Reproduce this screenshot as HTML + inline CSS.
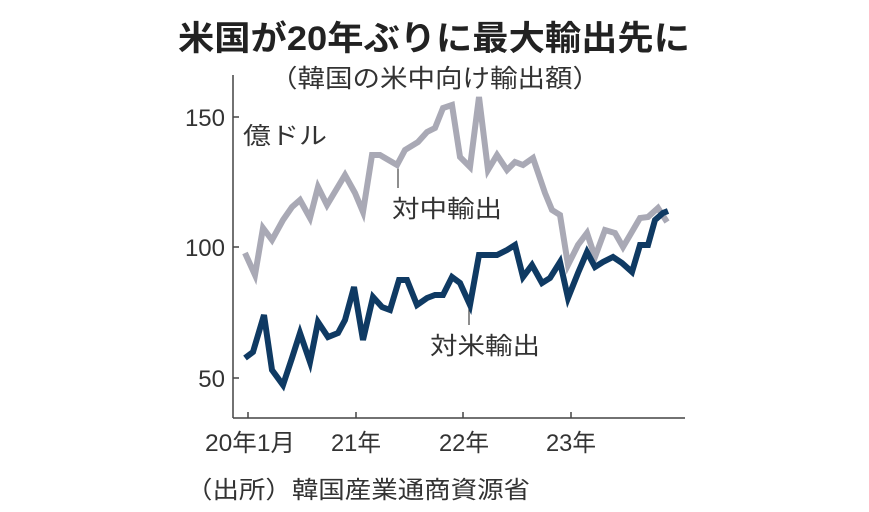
<!DOCTYPE html>
<html><head><meta charset="utf-8"><style>
body{margin:0;background:#fff;}
svg{display:block;font-family:"Liberation Sans","Noto Sans CJK JP",sans-serif;}
</style></head><body>
<svg width="869" height="512" viewBox="0 0 869 512">
<text x="178" y="50" font-size="34" font-weight="bold" fill="#222" textLength="512" lengthAdjust="spacingAndGlyphs">米国が20年ぶりに最大輸出先に</text>
<text x="270" y="87" font-size="25" fill="#333" textLength="330" lengthAdjust="spacingAndGlyphs">（韓国の米中向け輸出額）</text>
<g stroke="#444" stroke-width="1.5" fill="none">
<line x1="233" y1="75" x2="233" y2="418"/>
<line x1="233" y1="418" x2="685" y2="418"/>
<line x1="233" y1="117" x2="239" y2="117"/>
<line x1="233" y1="247" x2="239" y2="247"/>
<line x1="233" y1="378" x2="239" y2="378"/>
<line x1="248" y1="412" x2="248" y2="418"/>
<line x1="356" y1="412" x2="356" y2="418"/>
<line x1="463" y1="412" x2="463" y2="418"/>
<line x1="571" y1="412" x2="571" y2="418"/>
</g>
<g font-size="24" fill="#333">
<text x="225" y="126" text-anchor="end">150</text>
<text x="225" y="256" text-anchor="end">100</text>
<text x="225" y="387" text-anchor="end">50</text>
<text x="205" y="451" textLength="90" lengthAdjust="spacingAndGlyphs">20年1月</text>
<text x="331" y="451" textLength="50" lengthAdjust="spacingAndGlyphs">21年</text>
<text x="439" y="451" textLength="50" lengthAdjust="spacingAndGlyphs">22年</text>
<text x="546" y="451" textLength="50" lengthAdjust="spacingAndGlyphs">23年</text>
<text x="243" y="144" textLength="84" lengthAdjust="spacingAndGlyphs">億ドル</text>
<text x="392" y="217" textLength="110" lengthAdjust="spacingAndGlyphs">対中輸出</text>
<text x="430" y="354" textLength="110" lengthAdjust="spacingAndGlyphs">対米輸出</text>
<text x="186" y="498" textLength="344" lengthAdjust="spacingAndGlyphs">（出所）韓国産業通商資源省</text>
</g>
<line x1="398" y1="165" x2="398" y2="188" stroke="#444" stroke-width="1.2"/>
<line x1="469" y1="305" x2="469" y2="325" stroke="#444" stroke-width="1.2"/>
<polyline fill="none" stroke="#a9a9b5" stroke-width="6" stroke-linejoin="miter" points="245,253 255,275 263,228 272,240 283,220 292,207 300,200 310,218 318,187 327,205 345,175 355,193 363,212 372,155 380,155 397,165 405,150 418,142 427,132 435,128 443,108 452,105 460,157 470,167 479,97 488,170 497,155 507,170 515,162 523,165 533,158 545,193 552,210 560,215 568,265 578,245 587,233 595,257 605,230 615,233 623,247 633,230 640,218 648,217 658,208 667,222"/>
<polyline fill="none" stroke="#0f3a63" stroke-width="6" stroke-linejoin="miter" points="245,358 253,352 264,315 272,370 283,385 292,358 300,333 310,362 318,322 328,337 338,333 345,320 354,287 363,340 373,297 382,307 390,310 399,280 407,280 417,305 427,298 435,295 443,295 452,277 460,283 470,305 479,255 488,255 497,255 507,250 515,245 523,277 532,265 542,283 550,278 560,262 568,298 578,273 587,252 595,267 603,262 613,257 622,263 632,272 640,245 648,245 655,220 663,213 668,211"/>
</svg>
</body></html>
